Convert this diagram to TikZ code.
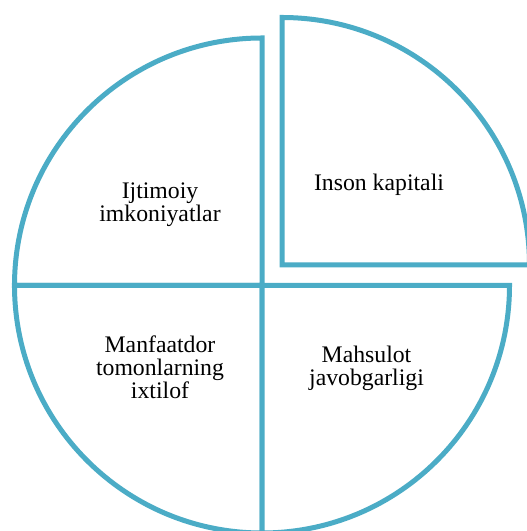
\documentclass[tikz,border=0pt]{standalone}
\usepackage{fontspec}
\setmainfont{Liberation Serif}
\usepackage{xcolor}
\usepackage{tikz}
\definecolor{sliceblue}{RGB}{75,172,198}

\begin{document}
\begin{tikzpicture}[x=0.75pt,y=0.75pt,
    slice/.style={draw=sliceblue, line width=3.75pt, line join=miter, fill=white},
    slicetext/.style={align=center, inner sep=0pt, font=\fontsize{17.8pt}{17.25pt}\selectfont}]
    \useasboundingbox (0,0) rectangle (527,531);
    \clip (0,0) rectangle (527,531);
    \coordinate (c) at (262,245.5);
    \coordinate (e) at (282,266);
    % the three slices that stay in place
    \draw[slice] (c) -- ++(0,247.5) arc[start angle=90, end angle=180, radius=247.5] -- cycle;
    \draw[slice] (c) -- ++(-247.5,0) arc[start angle=180, end angle=270, radius=247.5] -- cycle;
    \draw[slice] (c) -- ++(0,-247.5) arc[start angle=270, end angle=360, radius=247.5] -- cycle;
    % the pulled out slice
    \draw[slice] (e) -- ++(247.5,0) arc[start angle=0, end angle=90, radius=247.5] -- cycle;
    \node[slicetext] (ijtimoiy) at (160,326.5) {Ijtimoiy\\imkoniyatlar};
    \node[slicetext] (inson) at (379,346.5) {Inson kapitali};
    \node[slicetext] (manfaat) at (160,164) {Manfaatdor\\tomonlarning\\ixtilof};
    \node[slicetext] (mahsulot) at (366.5,162.5) {Mahsulot\\javobgarligi};
\end{tikzpicture}
\end{document}
